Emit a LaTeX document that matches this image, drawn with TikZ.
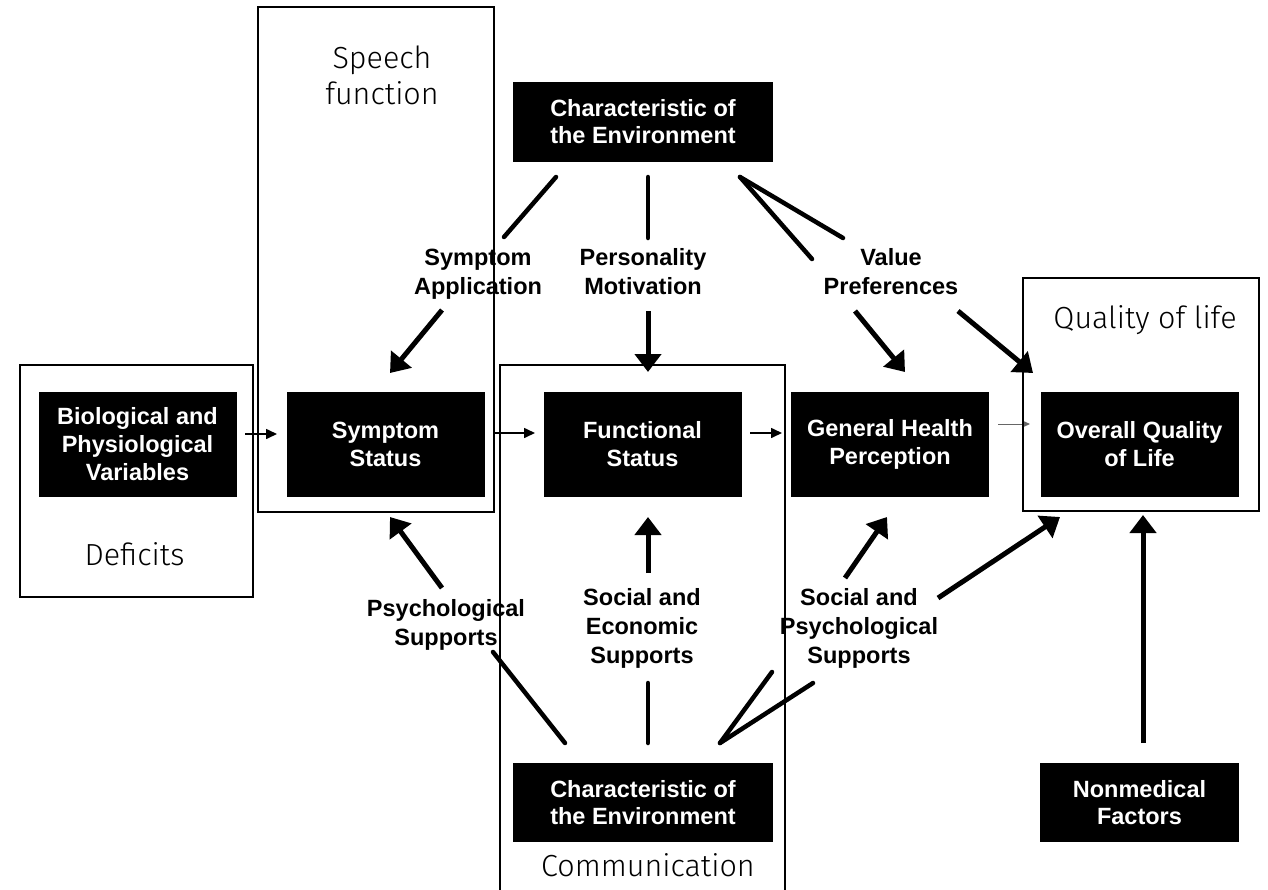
\documentclass[tikz,border=0pt]{standalone}
\usepackage{fontspec}
\setmainfont{Liberation Sans}
\newfontfamily\handfont{Fira Sans Light}
\usetikzlibrary{arrows.meta}
\begin{document}
\begin{tikzpicture}[x=1pt,y=-1pt,
  blackbox/.style={fill=black, text=white, font=\fontsize{23.5}{28}\selectfont\bfseries, align=center, inner sep=0pt, minimum width=198pt, minimum height=105pt},
  envbox/.style={blackbox, font=\fontsize{23.5}{27}\selectfont\bfseries, minimum width=260pt, minimum height=80pt},
  lbl/.style={font=\fontsize{23.5}{29}\selectfont\bfseries, align=center, inner sep=0pt},
  hand/.style={font=\handfont\fontsize{30.5}{36}\selectfont, align=center, inner sep=0pt},
  frame/.style={draw=black, line width=2.5pt},
  link/.style={line width=4.5pt, line cap=round},
  bigarrow/.style={line width=5pt, -{Triangle[width=26pt,length=18pt]}},
  smallarrow/.style={line width=1.6pt, -{Triangle[width=10pt,length=11pt]}},
  faintarrow/.style={line width=1pt, draw=black!60, -{Triangle[width=7pt,length=8pt]}},
]
\useasboundingbox[fill=white] (0,0) rectangle (1268,889);

% black boxes
\node[envbox] (env1) at (643,122) {Characteristic of\\the Environment};
\node[blackbox] (bio) at (137.5,444.5) {Biological and\\Physiological\\Variables};
\node[blackbox] (sym) at (385.5,444.5) {Symptom\\Status};
\node[blackbox] (fun) at (642.5,444.5) {Functional\\Status};
\node[blackbox] (gen) at (890,444.5) {General Health\\Perception};
\node[blackbox] (qol) at (1139.5,444.5) {Overall Quality\\of Life};
\node[envbox, minimum height=79pt] (env2) at (643,802.5) {Characteristic of\\the Environment};
\node[envbox, minimum width=199pt, minimum height=79pt] (nonmed) at (1139.5,802.5) {Nonmedical\\Factors};

% bold labels
\node[lbl] (symapp) at (478,274) {Symptom\\Application};
\node[lbl] (persmot) at (643,272) {Personality\\Motivation};
\node[lbl] (valpref) at (891,272) {Value\\Preferences};
\node[lbl] (psysup) at (446,625) {Psychological\\Supports};
\node[lbl] (socecon) at (642,628) {Social and\\Economic\\Supports};
\node[lbl] (socpsy) at (859,628) {Social and\\Psychological\\Supports};

% connector points
\coordinate (a1) at (556,177); \coordinate (a2) at (504,237);
\coordinate (a3) at (442,310); \coordinate (a4) at (390,373);
\coordinate (b1) at (648,177); \coordinate (b2) at (648,238);
\coordinate (b3) at (648,311); \coordinate (b4) at (648,372);
\coordinate (c0) at (740,177); \coordinate (c1) at (843,238); \coordinate (c2) at (812,259);
\coordinate (c3) at (855,311); \coordinate (c4) at (905,372);
\coordinate (c5) at (958,311); \coordinate (c6) at (1033,373);
\coordinate (d1) at (565,743); \coordinate (d2) at (493,652);
\coordinate (d3) at (442,588); \coordinate (d4) at (390,517);
\coordinate (e1) at (648,743); \coordinate (e2) at (648,683);
\coordinate (e3) at (648,573); \coordinate (e4) at (648,517);
\coordinate (f0) at (720,743); \coordinate (f1) at (772,672); \coordinate (f2) at (813,683);
\coordinate (f3) at (845,578); \coordinate (f4) at (887,517);
\coordinate (f5) at (938,598); \coordinate (f6) at (1060,517);
\coordinate (g1) at (1143,743); \coordinate (g2) at (1143,515);

\draw[link] (a1) -- (a2);
\draw[bigarrow] (a3) -- (a4);
\draw[link] (b1) -- (b2);
\draw[bigarrow] (b3) -- (b4);
\draw[link] (c0) -- (c1);
\draw[link] (c0) -- (c2);
\draw[bigarrow] (c3) -- (c4);
\draw[bigarrow] (c5) -- (c6);
\draw[link] (d1) -- (d2);
\draw[bigarrow] (d3) -- (d4);
\draw[link] (e1) -- (e2);
\draw[bigarrow] (e3) -- (e4);
\draw[link] (f0) -- (f1);
\draw[link] (f0) -- (f2);
\draw[bigarrow] (f3) -- (f4);
\draw[bigarrow] (f5) -- (f6);
\draw[bigarrow] (g1) -- (g2);

% thin horizontal arrows
\coordinate (h1) at (245,434); \coordinate (h2) at (277,434);
\coordinate (i1) at (493,433); \coordinate (i2) at (535,433);
\coordinate (j1) at (750,433); \coordinate (j2) at (782,433);
\coordinate (k1) at (998,424); \coordinate (k2) at (1030,424);
\draw[smallarrow] (h1) -- (h2);
\draw[smallarrow] (i1) -- (i2);
\draw[smallarrow] (j1) -- (j2);
\draw[faintarrow] (k1) -- (k2);

% outline frames
\draw[frame] (258,7) rectangle (494,512);
\draw[frame] (20,365) rectangle (253,597);
\draw[frame] (500,895) -- (500,365) -- (785,365) -- (785,895);
\draw[frame] (1023,278) rectangle (1259,511);

% handwritten-style labels
\node[hand] (speech) at (382,75) {Speech\\function};
\node[hand, anchor=base] (deficits) at (134.5,565) {Deficits};
\node[hand, anchor=base] (comm) at (648,876) {Communication};
\node[hand, anchor=base] (qlabel) at (1145,328) {Quality of life};
\end{tikzpicture}
\end{document}
